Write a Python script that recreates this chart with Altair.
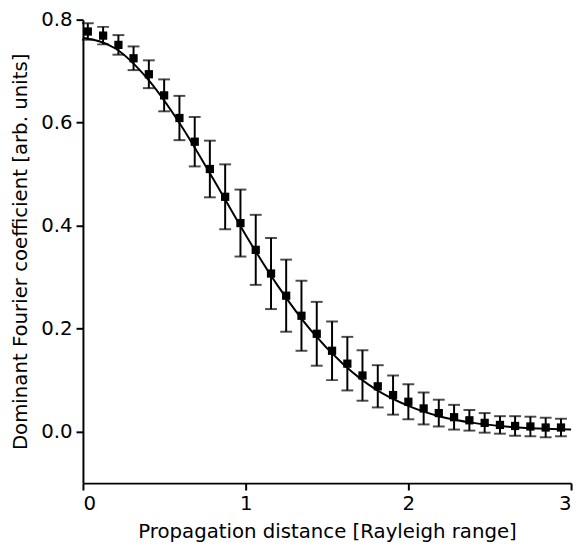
import altair as alt
import pandas as pd

# Measured points (propagation distance, coefficient, error half-width)
x_pts = [0.030, 0.124, 0.218, 0.311, 0.405, 0.499, 0.593, 0.687, 0.780, 0.874,
         0.968, 1.062, 1.156, 1.249, 1.343, 1.437, 1.531, 1.625, 1.718, 1.812,
         1.906, 2.000, 2.094, 2.187, 2.281, 2.375, 2.469, 2.563, 2.656, 2.750,
         2.844, 2.938]
y_pts = [0.777, 0.769, 0.751, 0.725, 0.694, 0.653, 0.609, 0.563, 0.510, 0.456,
         0.405, 0.353, 0.307, 0.264, 0.225, 0.190, 0.157, 0.132, 0.109, 0.088,
         0.071, 0.058, 0.045, 0.036, 0.028, 0.022, 0.017, 0.013, 0.011, 0.010,
         0.008, 0.008]
y_err = [0.016, 0.017, 0.019, 0.023, 0.027, 0.031, 0.043, 0.048, 0.055, 0.063,
         0.065, 0.068, 0.069, 0.070, 0.068, 0.062, 0.057, 0.052, 0.049, 0.041,
         0.038, 0.034, 0.031, 0.026, 0.024, 0.020, 0.019, 0.017, 0.019, 0.019,
         0.019, 0.017]

# Fitted curve
x_fit = [0.0, 0.2, 0.4, 0.6, 0.8, 1.0, 1.2, 1.4, 1.6, 1.8, 2.0, 2.2, 2.4, 2.6, 2.8, 3.0]
y_fit = [0.765, 0.744, 0.684, 0.596, 0.491, 0.382, 0.282, 0.197, 0.131, 0.082,
         0.050, 0.029, 0.017, 0.010, 0.006, 0.004]

pts = pd.DataFrame({"x": x_pts, "y": y_pts, "err": y_err})
pts["lo"] = pts["y"] - pts["err"]
pts["hi"] = pts["y"] + pts["err"]
fit = pd.DataFrame({"x": x_fit, "y": y_fit})

xscale = alt.Scale(domain=[0, 3], nice=False, zero=False)
yscale = alt.Scale(domain=[-0.1, 0.8], nice=False, zero=False)

xaxis = alt.Axis(title="Propagation distance [Rayleigh range]",
                 values=[0, 1, 2, 3], format="d",
                 titleBaseline="alphabetic", titleY=55)
yaxis = alt.Axis(title="Dominant Fourier coefficient [arb. units]",
                 values=[0.0, 0.2, 0.4, 0.6, 0.8], format=".1f")

line = alt.Chart(fit).mark_line(color="black", strokeWidth=2, interpolate="monotone").encode(
    x=alt.X("x:Q", scale=xscale, axis=xaxis),
    y=alt.Y("y:Q", scale=yscale, axis=yaxis),
)

rules = alt.Chart(pts).mark_rule(color="black", strokeWidth=2).encode(
    x=alt.X("x:Q", scale=xscale),
    y=alt.Y("lo:Q", scale=yscale),
    y2="hi:Q",
)

cap_lo = alt.Chart(pts).mark_tick(color="black", orient="horizontal", size=12, thickness=2).encode(
    x=alt.X("x:Q", scale=xscale),
    y=alt.Y("lo:Q", scale=yscale),
)
cap_hi = alt.Chart(pts).mark_tick(color="black", orient="horizontal", size=12, thickness=2).encode(
    x=alt.X("x:Q", scale=xscale),
    y=alt.Y("hi:Q", scale=yscale),
)

squares = alt.Chart(pts).mark_square(color="black", opacity=1, size=70).encode(
    x=alt.X("x:Q", scale=xscale),
    y=alt.Y("y:Q", scale=yscale),
)

chart = alt.layer(line, rules, cap_lo, cap_hi, squares).properties(
    width=495, height=470,
    autosize=alt.AutoSizeParams(type="none"),
    padding={"left": 76, "top": 8, "right": 5, "bottom": 64},
).configure_view(stroke=None).configure_axis(
    grid=False,
    domainColor="black", domainWidth=2,
    tickColor="black", tickWidth=2, tickSize=7,
    labelFont="DejaVu Sans", labelFontSize=20, labelColor="black", labelPadding=4,
    titleFont="DejaVu Sans", titleFontSize=20, titleFontWeight="normal", titleColor="black",
).configure_axisY(titlePadding=10)

chart.save("out.html", embed_options={"renderer": "svg", "actions": False})
